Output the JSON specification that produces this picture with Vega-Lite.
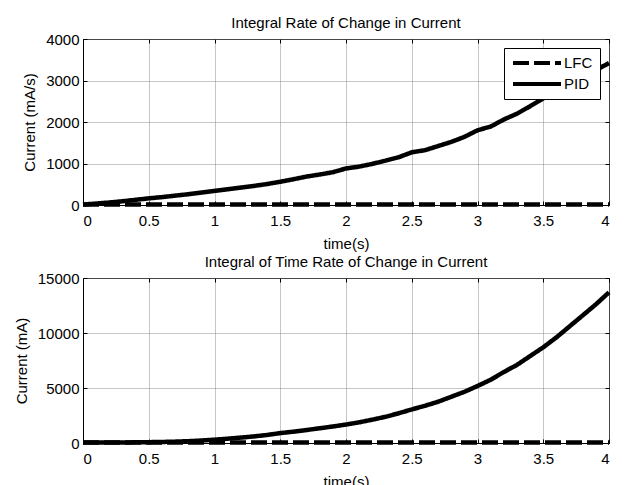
{
  "$schema": "https://vega.github.io/schema/vega-lite/v6.json",
  "background": "white",
  "padding": {"left": 13, "top": 15, "right": 12, "bottom": 5},
  "spacing": 2,
  "config": {
    "font": "Liberation Sans",
    "view": {"stroke": "black", "strokeWidth": 1},
    "axis": {
      "domainColor": "black",
      "tickColor": "black",
      "labelColor": "black",
      "titleColor": "black",
      "labelFontSize": 15,
      "titleFontSize": 15,
      "titleFontWeight": "normal",
      "grid": true,
      "gridColor": "#8c8c8c",
      "gridDash": [1, 1],
      "tickSize": -4,
      "labelPadding": 8,
      "titlePadding": 8
    },
    "axisX": {"labelPadding": 12},
    "title": {"fontSize": 15, "fontWeight": "normal", "color": "black", "offset": 1},
    "legend": {
      "strokeColor": "black",
      "fillColor": "white",
      "padding": 7,
      "symbolType": "M-4,0H4",
      "symbolSize": 144,
      "symbolOffset": 18,
      "symbolStrokeWidth": 4,
      "symbolStrokeColor": "black",
      "labelOffset": 19,
      "labelFontSize": 15,
      "labelColor": "black",
      "rowPadding": 5,
      "offset": 9,
      "cornerRadius": 0
    }
  },
  "datasets": {
    "rate": [
      {"t": 0, "current": 10, "controller": "LFC"},
      {"t": 0.5, "current": 10, "controller": "LFC"},
      {"t": 1, "current": 10, "controller": "LFC"},
      {"t": 1.5, "current": 10, "controller": "LFC"},
      {"t": 2, "current": 10, "controller": "LFC"},
      {"t": 2.5, "current": 10, "controller": "LFC"},
      {"t": 3, "current": 10, "controller": "LFC"},
      {"t": 3.5, "current": 10, "controller": "LFC"},
      {"t": 4, "current": 10, "controller": "LFC"},
      {"t": 0, "current": 10, "controller": "PID"},
      {"t": 0.1, "current": 35, "controller": "PID"},
      {"t": 0.2, "current": 60, "controller": "PID"},
      {"t": 0.3, "current": 90, "controller": "PID"},
      {"t": 0.4, "current": 125, "controller": "PID"},
      {"t": 0.5, "current": 160, "controller": "PID"},
      {"t": 0.6, "current": 190, "controller": "PID"},
      {"t": 0.7, "current": 225, "controller": "PID"},
      {"t": 0.8, "current": 260, "controller": "PID"},
      {"t": 0.9, "current": 300, "controller": "PID"},
      {"t": 1.0, "current": 340, "controller": "PID"},
      {"t": 1.1, "current": 380, "controller": "PID"},
      {"t": 1.2, "current": 420, "controller": "PID"},
      {"t": 1.3, "current": 460, "controller": "PID"},
      {"t": 1.4, "current": 505, "controller": "PID"},
      {"t": 1.5, "current": 560, "controller": "PID"},
      {"t": 1.6, "current": 620, "controller": "PID"},
      {"t": 1.7, "current": 685, "controller": "PID"},
      {"t": 1.8, "current": 735, "controller": "PID"},
      {"t": 1.9, "current": 790, "controller": "PID"},
      {"t": 2.0, "current": 880, "controller": "PID"},
      {"t": 2.1, "current": 925, "controller": "PID"},
      {"t": 2.2, "current": 990, "controller": "PID"},
      {"t": 2.3, "current": 1070, "controller": "PID"},
      {"t": 2.4, "current": 1150, "controller": "PID"},
      {"t": 2.5, "current": 1270, "controller": "PID"},
      {"t": 2.6, "current": 1320, "controller": "PID"},
      {"t": 2.7, "current": 1420, "controller": "PID"},
      {"t": 2.8, "current": 1520, "controller": "PID"},
      {"t": 2.9, "current": 1640, "controller": "PID"},
      {"t": 3.0, "current": 1800, "controller": "PID"},
      {"t": 3.1, "current": 1890, "controller": "PID"},
      {"t": 3.2, "current": 2060, "controller": "PID"},
      {"t": 3.3, "current": 2200, "controller": "PID"},
      {"t": 3.4, "current": 2380, "controller": "PID"},
      {"t": 3.5, "current": 2570, "controller": "PID"},
      {"t": 3.6, "current": 2720, "controller": "PID"},
      {"t": 3.7, "current": 2900, "controller": "PID"},
      {"t": 3.8, "current": 3060, "controller": "PID"},
      {"t": 3.9, "current": 3250, "controller": "PID"},
      {"t": 4.0, "current": 3420, "controller": "PID"}
    ],
    "integral": [
      {"t": 0, "current": 50, "controller": "LFC"},
      {"t": 0.5, "current": 50, "controller": "LFC"},
      {"t": 1, "current": 50, "controller": "LFC"},
      {"t": 1.5, "current": 50, "controller": "LFC"},
      {"t": 2, "current": 50, "controller": "LFC"},
      {"t": 2.5, "current": 50, "controller": "LFC"},
      {"t": 3, "current": 50, "controller": "LFC"},
      {"t": 3.5, "current": 50, "controller": "LFC"},
      {"t": 4, "current": 50, "controller": "LFC"},
      {"t": 0, "current": 40, "controller": "PID"},
      {"t": 0.1, "current": 40, "controller": "PID"},
      {"t": 0.2, "current": 45, "controller": "PID"},
      {"t": 0.3, "current": 50, "controller": "PID"},
      {"t": 0.4, "current": 60, "controller": "PID"},
      {"t": 0.5, "current": 75, "controller": "PID"},
      {"t": 0.6, "current": 95, "controller": "PID"},
      {"t": 0.7, "current": 125, "controller": "PID"},
      {"t": 0.8, "current": 165, "controller": "PID"},
      {"t": 0.9, "current": 225, "controller": "PID"},
      {"t": 1.0, "current": 300, "controller": "PID"},
      {"t": 1.1, "current": 390, "controller": "PID"},
      {"t": 1.2, "current": 490, "controller": "PID"},
      {"t": 1.3, "current": 600, "controller": "PID"},
      {"t": 1.4, "current": 730, "controller": "PID"},
      {"t": 1.5, "current": 900, "controller": "PID"},
      {"t": 1.6, "current": 1030, "controller": "PID"},
      {"t": 1.7, "current": 1180, "controller": "PID"},
      {"t": 1.8, "current": 1340, "controller": "PID"},
      {"t": 1.9, "current": 1500, "controller": "PID"},
      {"t": 2.0, "current": 1680, "controller": "PID"},
      {"t": 2.1, "current": 1880, "controller": "PID"},
      {"t": 2.2, "current": 2120, "controller": "PID"},
      {"t": 2.3, "current": 2380, "controller": "PID"},
      {"t": 2.4, "current": 2700, "controller": "PID"},
      {"t": 2.5, "current": 3050, "controller": "PID"},
      {"t": 2.6, "current": 3380, "controller": "PID"},
      {"t": 2.7, "current": 3750, "controller": "PID"},
      {"t": 2.8, "current": 4200, "controller": "PID"},
      {"t": 2.9, "current": 4650, "controller": "PID"},
      {"t": 3.0, "current": 5180, "controller": "PID"},
      {"t": 3.1, "current": 5750, "controller": "PID"},
      {"t": 3.2, "current": 6450, "controller": "PID"},
      {"t": 3.3, "current": 7100, "controller": "PID"},
      {"t": 3.4, "current": 7900, "controller": "PID"},
      {"t": 3.5, "current": 8700, "controller": "PID"},
      {"t": 3.6, "current": 9600, "controller": "PID"},
      {"t": 3.7, "current": 10600, "controller": "PID"},
      {"t": 3.8, "current": 11600, "controller": "PID"},
      {"t": 3.9, "current": 12600, "controller": "PID"},
      {"t": 4.0, "current": 13700, "controller": "PID"}
    ]
  },
  "resolve": {"scale": {"strokeDash": "independent"}, "legend": {"strokeDash": "independent"}},
  "vconcat": [
    {
      "title": "Integral Rate of Change in Current",
      "width": 526,
      "height": 166,
      "data": {"name": "rate"},
      "resolve": {"axis": {"x": "independent", "y": "independent"}},
      "layer": [
        {
          "mark": {"type": "line", "color": "black", "strokeWidth": 4.5, "strokeCap": "butt"},
          "encoding": {
            "x": {
              "field": "t", "type": "quantitative", "title": "time(s)",
              "scale": {"domain": [0, 4], "nice": false},
              "axis": {"values": [0, 0.5, 1, 1.5, 2, 2.5, 3, 3.5, 4], "format": "~g"}
            },
            "y": {
              "field": "current", "type": "quantitative", "title": "Current (mA/s)",
              "scale": {"domain": [0, 4000], "nice": false},
              "axis": {"values": [0, 1000, 2000, 3000, 4000], "format": "d"}
            },
            "strokeDash": {
              "field": "controller", "type": "nominal",
              "scale": {"domain": ["LFC", "PID"], "range": [[16, 5], [1, 0]]},
              "legend": {"title": null, "orient": "top-right"}
            }
          }
        },
        {
          "mark": {"type": "point", "opacity": 0},
          "encoding": {
            "x": {
              "field": "t", "type": "quantitative",
              "axis": {"orient": "top", "values": [0, 0.5, 1, 1.5, 2, 2.5, 3, 3.5, 4], "labels": false, "title": null, "grid": false, "domain": false}
            },
            "y": {
              "field": "current", "type": "quantitative",
              "axis": {"orient": "right", "values": [0, 1000, 2000, 3000, 4000], "labels": false, "title": null, "grid": false, "domain": false}
            }
          }
        }
      ]
    },
    {
      "title": "Integral of Time Rate of Change in Current",
      "width": 526,
      "height": 165,
      "data": {"name": "integral"},
      "resolve": {"axis": {"x": "independent", "y": "independent"}},
      "layer": [
        {
          "mark": {"type": "line", "color": "black", "strokeWidth": 4.5, "strokeCap": "butt"},
          "encoding": {
            "x": {
              "field": "t", "type": "quantitative", "title": "time(s)",
              "scale": {"domain": [0, 4], "nice": false},
              "axis": {"values": [0, 0.5, 1, 1.5, 2, 2.5, 3, 3.5, 4], "format": "~g"}
            },
            "y": {
              "field": "current", "type": "quantitative", "title": "Current (mA)",
              "scale": {"domain": [0, 15000], "nice": false},
              "axis": {"values": [0, 5000, 10000, 15000], "format": "d"}
            },
            "strokeDash": {
              "field": "controller", "type": "nominal",
              "scale": {"domain": ["LFC", "PID"], "range": [[16, 5], [1, 0]]},
              "legend": null
            }
          }
        },
        {
          "mark": {"type": "point", "opacity": 0},
          "encoding": {
            "x": {
              "field": "t", "type": "quantitative",
              "axis": {"orient": "top", "values": [0, 0.5, 1, 1.5, 2, 2.5, 3, 3.5, 4], "labels": false, "title": null, "grid": false, "domain": false}
            },
            "y": {
              "field": "current", "type": "quantitative",
              "axis": {"orient": "right", "values": [0, 5000, 10000, 15000], "labels": false, "title": null, "grid": false, "domain": false}
            }
          }
        }
      ]
    }
  ]
}
